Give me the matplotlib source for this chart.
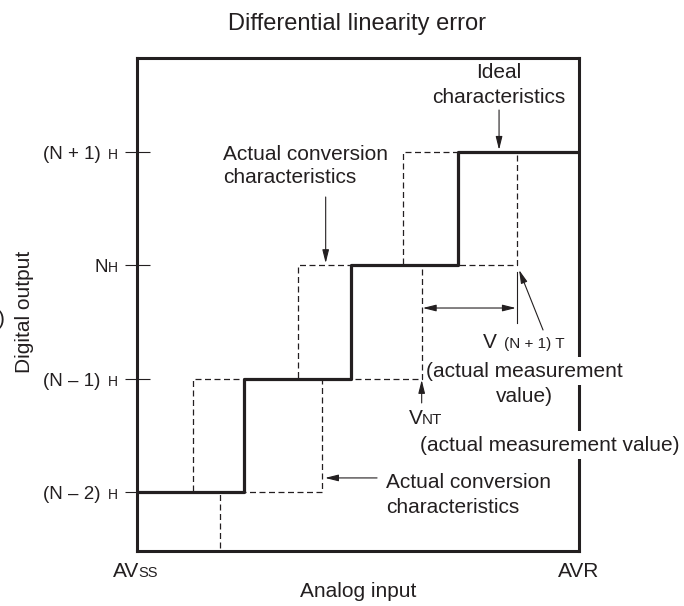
import matplotlib.pyplot as plt

plt.rcParams['font.family'] = ['Liberation Sans', 'DejaVu Sans']

INK = '#231f20'

# digital output codes, stacked 0..3 from (N-2)H up to (N+1)H
levels = [0, 1, 2, 3]
level_main = ['(N – 2)', '(N – 1)', 'N', '(N + 1)']
level_sub = ['H', 'H', 'H', 'H']

x_end = 4.13  # AVR, in LSB of the ideal curve

# ideal characteristics
ideal_x = [0, 1, 2, 3, x_end]
ideal_y = [0, 1, 2, 3, 3]

# actual conversion characteristics (two measured curves)
early_x = [0, 0.52, 1.50, 2.49, 3.0]
early_y = [0, 1, 2, 3, 3]
late_x = [0.78, 0.78, 1.73, 2.66, 3.55, x_end]
late_y = [-1, 0, 1, 2, 3, 3]

v_nt = late_x[3]
v_n1t = late_x[4]

fig = plt.figure(figsize=(6.84, 6.06), dpi=100)
ax = fig.add_axes([137 / 684, 55 / 606, 442 / 684, 493 / 606])
ax.set_xlim(0, x_end)
ax.set_ylim(-0.521, 3.831)

dash = dict(color=INK, lw=0.9, dashes=(4.8, 2.8), zorder=4)
ax.step(early_x, early_y, where='post', **dash)
ax.step(late_x, late_y, where='post', **dash)
ax.step(ideal_x, ideal_y, where='post', color=INK, lw=2.3, zorder=5)

for s in ax.spines.values():
    s.set_linewidth(2.2)
    s.set_color(INK)
ax.set_xticks([])
ax.set_yticks(levels)
ax.tick_params(axis='y', direction='inout', length=18, width=0.8,
               color=INK, labelleft=False)


def mixed(xy, coords, off, big, small, big_size=15, small_size=10,
          gap=0.0, ha='left', **kw):
    # text with a smaller suffix sitting on the same baseline
    if ha == 'left':
        t1 = ax.annotate(big, xy, xycoords=coords, xytext=off,
                         textcoords='offset points', ha='left',
                         va='baseline', fontsize=big_size, color=INK,
                         annotation_clip=False, **kw)
        ax.annotate(small, (1, 0), xycoords=t1,
                    xytext=(gap, 0.21 * big_size), textcoords='offset points',
                    ha='left', va='baseline', fontsize=small_size,
                    color=INK, **kw)
    else:
        t2 = ax.annotate(small, xy, xycoords=coords, xytext=off,
                         textcoords='offset points', ha='right',
                         va='baseline', fontsize=small_size, color=INK,
                         annotation_clip=False, **kw)
        ax.annotate(big, (0, 0), xycoords=t2,
                    xytext=(-gap, 0.21 * small_size),
                    textcoords='offset points', ha='right', va='baseline',
                    fontsize=big_size, color=INK, **kw)


for lv, m, s in zip(levels, level_main, level_sub):
    g = 5.0 if m.endswith(')') else -0.5
    mixed((0, lv), ('axes fraction', 'data'), (-14, -5), m, s,
          big_size=13.5, small_size=10, gap=g, ha='right')


def lines(x, ys, texts, ha='left', **kw):
    for y, t in zip(ys, texts):
        ax.text(x, y, t, ha=ha, va='baseline', fontsize=15, color=INK, **kw)


def arrow(tail, head, style='-|>'):
    ax.annotate('', xy=head, xytext=tail,
                arrowprops=dict(arrowstyle=style + ',head_length=0.8,head_width=0.2',
                                color=INK, lw=0.8, shrinkA=0, shrinkB=0,
                                mutation_scale=10),
                annotation_clip=False)


white = dict(boxstyle='square,pad=0.2', fc='white', ec='none')

# ideal
lines(3.383, [3.654, 3.433], ['Ideal', 'characteristics'], ha='center')
arrow((3.383, 3.372), (3.383, 3.02))

# actual, upper
lines(0.801, [2.930, 2.727], ['Actual conversion', 'characteristics'])
arrow((1.763, 2.604), (1.763, 2.02))

# actual, lower
lines(2.327, [0.035, -0.185], ['Actual conversion', 'characteristics'])
arrow((2.243, 0.124), (1.757, 0.124))

# V(N+1)T
arrow((v_nt + 0.01, 1.624), (v_n1t - 0.01, 1.624), style='<|-|>')
ax.plot([v_n1t, v_n1t], [1.492, 1.942], color=INK, lw=0.8)
arrow((3.794, 1.43), (3.57, 1.96))
mixed((3.234, 1.271), 'data', (0, 0), 'V', '(N + 1) T', small_size=11, gap=5)
lines(3.617, [1.018], ['(actual measurement'], ha='center', bbox=white)
lines(3.617, [0.797], ['value)'], ha='center')

# VNT
arrow((v_nt, 0.786), (v_nt, 0.989))
mixed((2.542, 0.600), 'data', (0, 0), 'V', 'NT', small_size=11, gap=-1.2)
lines(2.645, [0.366], ['(actual measurement value)'], bbox=white)

# x axis ends
mixed((0, 0), ('data', 'axes fraction'), (-17.3, -18.7), 'AV', 'SS',
      small_size=10.5, gap=-0.3)
ax.annotate('AVR', (1, 0), xycoords='axes fraction', xytext=(0, -18.7),
            textcoords='offset points', ha='center', va='baseline',
            fontsize=15, color=INK)
ax.annotate('Analog input', (0.5, 0), xycoords='axes fraction',
            xytext=(0, -33), textcoords='offset points', ha='center',
            va='baseline', fontsize=15, color=INK)

fig.text(24.5 / 684, 1 - 312 / 606, 'Digital output', rotation=90,
         ha='center', va='center', fontsize=15, color=INK)
fig.text(5 / 684, 1 - 320 / 606, ')', ha='right', va='center',
         fontsize=15, color=INK)
fig.text(357.5 / 684, 1 - 30 / 606, 'Differential linearity error',
         ha='center', va='baseline', fontsize=17, color=INK)

fig.savefig('out.png', dpi=100)
